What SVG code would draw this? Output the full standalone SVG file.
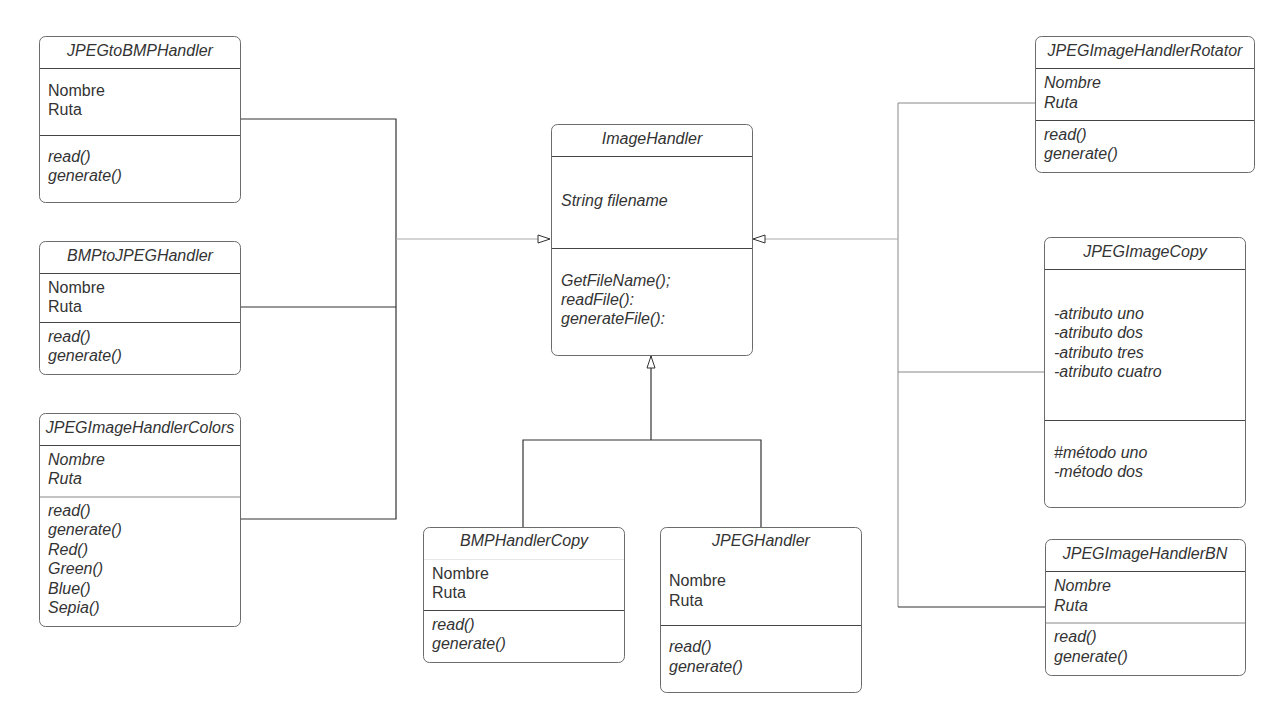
<svg xmlns="http://www.w3.org/2000/svg" width="1280" height="722" viewBox="0 0 1280 722">
<defs>
<style>
.box{fill:#fff;stroke:#6b6b6b;stroke-width:1}
.sep{stroke:#444;stroke-width:1}
.sepf{stroke:#e8e8e8;stroke-width:1}
text{font-family:"Liberation Sans",Arial,sans-serif;font-size:16px;fill:#333}
.t{font-style:italic;text-anchor:middle}
.i{font-style:italic}
.dk{fill:none;stroke:#333;stroke-width:1.2}
.lt{fill:none;stroke:#aaa;stroke-width:1}
.md{fill:none;stroke:#888;stroke-width:1}
</style>
<marker id="tri" viewBox="0 0 14 10" refX="13" refY="5" markerWidth="14" markerHeight="10" markerUnits="userSpaceOnUse" orient="auto">
<path d="M1,1 L13,5 L1,9 Z" fill="#fff" stroke="#333" stroke-width="1"/>
</marker>
</defs>
<rect width="1280" height="722" fill="#fff"/>
<g id="connectors">
<path class="dk" d="M240,119 H396 V519 H240"/>
<path class="dk" d="M240,307 H396"/>
<path class="lt" d="M396,239 H550" marker-end="url(#tri)"/>
<path class="md" d="M1035,103 H898 V607"/>
<path class="md" d="M898,372 H1044"/>
<path class="dk" d="M898,607 H1045"/>
<path class="lt" d="M898,239 H753" marker-end="url(#tri)"/>
<path class="dk" d="M523,527 V440 H761 V527"/>
<path class="dk" d="M651,440 V356" marker-end="url(#tri)"/>
</g>
<g id="JPEGtoBMPHandler">
<rect class="box" x="39.5" y="36.5" width="201" height="166" rx="6"/>
<line class="sep" x1="40" y1="68.5" x2="240" y2="68.5"/>
<line class="sep" x1="40" y1="135.5" x2="240" y2="135.5"/>
<text class="t" x="140" y="56">JPEGtoBMPHandler</text>
<text x="48" y="96">Nombre</text>
<text x="48" y="115">Ruta</text>
<text class="i" x="48" y="162">read()</text>
<text class="i" x="48" y="181">generate()</text>
</g>
<g id="BMPtoJPEGHandler">
<rect class="box" x="39.5" y="241.5" width="201" height="133" rx="6"/>
<line class="sep" x1="40" y1="273.5" x2="240" y2="273.5"/>
<line class="sep" x1="40" y1="322.5" x2="240" y2="322.5"/>
<text class="t" x="140" y="261">BMPtoJPEGHandler</text>
<text x="48" y="293">Nombre</text>
<text x="48" y="312">Ruta</text>
<text class="i" x="48" y="342">read()</text>
<text class="i" x="48" y="361">generate()</text>
</g>
<g id="JPEGImageHandlerColors">
<rect class="box" x="39.5" y="413.5" width="201" height="213" rx="6"/>
<line class="sep" x1="40" y1="445.5" x2="240" y2="445.5"/>
<line class="md" x1="40" y1="497" x2="240" y2="497" stroke-width="2"/>
<text class="t" x="140" y="433">JPEGImageHandlerColors</text>
<text class="i" x="48" y="465">Nombre</text>
<text class="i" x="48" y="484">Ruta</text>
<text class="i" x="48" y="516">read()</text>
<text class="i" x="48" y="535">generate()</text>
<text class="i" x="48" y="555">Red()</text>
<text class="i" x="48" y="574">Green()</text>
<text class="i" x="48" y="594">Blue()</text>
<text class="i" x="48" y="613">Sepia()</text>
</g>
<g id="ImageHandler">
<rect class="box" x="551.5" y="124.5" width="201" height="231" rx="6"/>
<line class="sep" x1="552" y1="156.5" x2="752" y2="156.5"/>
<line class="sep" x1="552" y1="248.5" x2="752" y2="248.5"/>
<text class="t" x="652" y="144">ImageHandler</text>
<text class="i" x="561" y="206">String filename</text>
<text class="i" x="561" y="286">GetFileName();</text>
<text class="i" x="561" y="305">readFile():</text>
<text class="i" x="561" y="324">generateFile():</text>
</g>
<g id="BMPHandlerCopy">
<rect class="box" x="423.5" y="527.5" width="201" height="135" rx="6"/>
<line class="sepf" x1="424" y1="559.5" x2="624" y2="559.5"/>
<line class="sep" x1="424" y1="610.5" x2="624" y2="610.5"/>
<text class="t" x="524" y="546">BMPHandlerCopy</text>
<text x="432" y="579">Nombre</text>
<text x="432" y="598">Ruta</text>
<text class="i" x="432" y="630">read()</text>
<text class="i" x="432" y="649">generate()</text>
</g>
<g id="JPEGHandler">
<rect class="box" x="660.5" y="527.5" width="201" height="165" rx="6"/>
<line class="sep" x1="661" y1="625.5" x2="861" y2="625.5"/>
<text class="t" x="761" y="546">JPEGHandler</text>
<text x="669" y="586">Nombre</text>
<text x="669" y="606">Ruta</text>
<text class="i" x="669" y="652">read()</text>
<text class="i" x="669" y="672">generate()</text>
</g>
<g id="JPEGImageHandlerRotator">
<rect class="box" x="1035.5" y="36.5" width="219" height="136" rx="6"/>
<line class="sep" x1="1036" y1="68.5" x2="1254" y2="68.5"/>
<line class="sep" x1="1036" y1="120.5" x2="1254" y2="120.5"/>
<text class="t" x="1145" y="56">JPEGImageHandlerRotator</text>
<text class="i" x="1044" y="88">Nombre</text>
<text class="i" x="1044" y="108">Ruta</text>
<text class="i" x="1044" y="140">read()</text>
<text class="i" x="1044" y="159">generate()</text>
</g>
<g id="JPEGImageCopy">
<rect class="box" x="1044.5" y="237.5" width="201" height="270" rx="6"/>
<line class="sep" x1="1045" y1="269.5" x2="1245" y2="269.5"/>
<line class="sep" x1="1045" y1="420.5" x2="1245" y2="420.5"/>
<text class="t" x="1145" y="257">JPEGImageCopy</text>
<text class="i" x="1054" y="319">-atributo uno</text>
<text class="i" x="1054" y="338">-atributo dos</text>
<text class="i" x="1054" y="358">-atributo tres</text>
<text class="i" x="1054" y="377">-atributo cuatro</text>
<text class="i" x="1054" y="458">#método uno</text>
<text class="i" x="1054" y="477">-método dos</text>
</g>
<g id="JPEGImageHandlerBN">
<rect class="box" x="1045.5" y="539.5" width="200" height="136" rx="6"/>
<line class="sep" x1="1046" y1="571.5" x2="1245" y2="571.5"/>
<line class="md" x1="1046" y1="623" x2="1245" y2="623" stroke-width="2"/>
<text class="t" x="1145" y="559">JPEGImageHandlerBN</text>
<text class="i" x="1054" y="591">Nombre</text>
<text class="i" x="1054" y="611">Ruta</text>
<text class="i" x="1054" y="642">read()</text>
<text class="i" x="1054" y="662">generate()</text>
</g>
</svg>
